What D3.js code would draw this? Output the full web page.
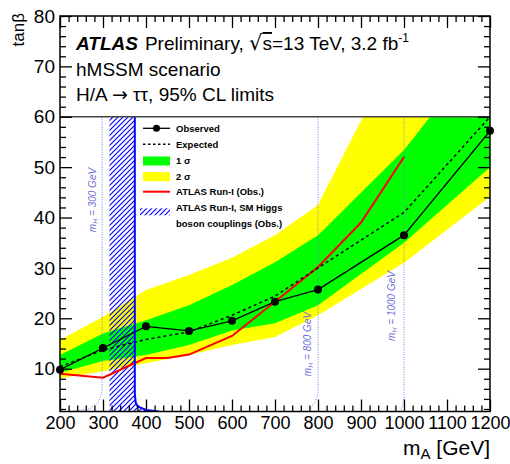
<!DOCTYPE html>
<html>
<head>
<meta charset="utf-8">
<script src="https://cdn.jsdelivr.net/npm/d3@7"></script>
<style>
body { margin: 0; background: #fff; }
svg { display: block; font-family: "Liberation Sans", Arial, Helvetica, sans-serif; }
</style>
</head>
<body>
<svg id="chart" width="510" height="464"></svg>
<script>
// mass points of the limit scan (GeV)
const massPoints = [200, 300, 400, 500, 600, 700, 800, 1000, 1200];
const observed   = [9.8, 14.1, 18.4, 17.5, 19.5, 23.3, 25.7, 36.5, 57.2];
const expected   = [10.4, 13.7, 15.8, 17.3, 20.6, 24.4, 30.0, 41.0, 60.0];
const band2Lo    = [8.1, 9.5, 11.1, 12.7, 14.7, 16.3, 20.6, 31.0, 44.1];
const band1Lo    = [9.2, 11.5, 12.7, 14.7, 17.6, 19.0, 22.6, 35.0, 50.0];
const band1Hi    = [12.7, 17.0, 19.6, 22.6, 26.6, 31.1, 36.5, 53.4, 75.0];
const band2Hi    = [15.7, 20.3, 25.6, 28.6, 32.0, 36.5, 42.5, 76.0, 110.0];

// ATLAS Run-I observed limit
const run1Mass = [200, 300, 400, 450, 500, 600, 700, 800, 900, 1000];
const run1Obs  = [9.0, 8.2, 12.1, 12.1, 12.8, 16.5, 23.3, 30.2, 39.0, 52.0];

// Run-I SM Higgs couplings exclusion (left edge + right boundary curve)
const smCoupLeft = 315;
const smCoupMass = [374, 374, 376, 380, 386, 400, 430];
const smCoupTan  = [60, 5.0, 3.3, 2.6, 2.3, 1.8, 1.5];

// iso-mH contours
const mH300Mass  = [298, 298, 295, 287, 268, 245, 225];
const mH300Tan   = [60, 6.0, 4.5, 3.1, 2.0, 1.7, 1.5];
const mH800Mass  = [800, 800, 794, 786, 780];
const mH800Tan   = [60, 5.0, 3.5, 2.5, 1.5];
const mH1000Mass = [1000, 1000, 996, 991];
const mH1000Tan  = [60, 4.0, 2.5, 1.5];

const xTickLabels = [200, 300, 400, 500, 600, 700, 800, 900, 1000, 1100, 1200];
const yTickLabels = [10, 20, 30, 40, 50, 60, 70, 80];

const svg = d3.select("#chart");
const pL = 60, pR = 490, pT = 16, pB = 411.5;

const x = d3.scaleLinear().domain([200, 1200]).range([pL, pR]);
const y = d3.scaleLinear().domain([1.5, 80]).range([pB, pT]);

const defs = svg.append("defs");
defs.append("clipPath").attr("id", "plotClip")
  .append("rect")
    .attr("x", pL).attr("y", y(60))
    .attr("width", pR - pL).attr("height", pB - y(60));

const hatch = defs.append("pattern")
    .attr("id", "hatch")
    .attr("patternUnits", "userSpaceOnUse")
    .attr("width", 5).attr("height", 5);
hatch.append("path")
    .attr("d", "M-1,1 l2,-2 M0,5 l5,-5 M4,6 l2,-2")
    .attr("stroke", "#0000ff").attr("stroke-width", 1.2);

const zip = (ms, vs) => ms.map((m, i) => ({m: m, v: vs[i]}));

const plot = svg.append("g").attr("clip-path", "url(#plotClip)");

const area = (lo, hi) => d3.area()
    .x((d, i) => x(massPoints[i]))
    .y0((d, i) => y(lo[i]))
    .y1((d, i) => y(hi[i]))(massPoints);

plot.append("path").attr("d", area(band2Lo, band2Hi)).attr("fill", "#ffff00");
plot.append("path").attr("d", area(band1Lo, band1Hi)).attr("fill", "#00ff00");

// hatched exclusion
const hatchPts = [[smCoupLeft, 60], [smCoupLeft, 1.5]]
  .concat(smCoupMass.map((m, i) => [m, smCoupTan[i]]).reverse());
plot.append("path")
    .attr("d", d3.line().x(d => x(d[0])).y(d => y(d[1]))(hatchPts) + "Z")
    .attr("fill", "url(#hatch)");

const line = d3.line().x(d => x(d.m)).y(d => y(d.v));

// iso-mH dotted contours
[[mH300Mass, mH300Tan], [mH800Mass, mH800Tan], [mH1000Mass, mH1000Tan]].forEach(c => {
  plot.append("path")
      .attr("d", line(zip(c[0], c[1])))
      .attr("fill", "none")
      .attr("stroke", "#7a7ae0")
      .attr("stroke-width", 1)
      .attr("stroke-dasharray", "1,1.5");
});

plot.append("path").attr("d", line(zip(run1Mass, run1Obs)))
    .attr("fill", "none").attr("stroke", "#ff0000").attr("stroke-width", 2);

plot.append("path").attr("d", line(zip(massPoints, expected)))
    .attr("fill", "none").attr("stroke", "#000").attr("stroke-width", 1.5)
    .attr("stroke-dasharray", "3,3");

plot.append("path").attr("d", line(zip(massPoints, observed)))
    .attr("fill", "none").attr("stroke", "#000").attr("stroke-width", 1.3);

plot.append("path").attr("d", line(zip(smCoupMass, smCoupTan)))
    .attr("fill", "none").attr("stroke", "#0000ff").attr("stroke-width", 2);

svg.append("g").selectAll("circle")
  .data(zip(massPoints, observed))
  .join("circle")
    .attr("cx", d => x(d.m)).attr("cy", d => y(d.v))
    .attr("r", 4).attr("fill", "#000");

// horizontal line at tanb = 60
svg.append("line")
    .attr("x1", pL).attr("x2", pR)
    .attr("y1", y(60)).attr("y2", y(60))
    .attr("stroke", "#444").attr("stroke-width", 1.5);

// mH labels
function mHLabel(txt, mx, cy) {
  const t = svg.append("text")
      .attr("transform", `translate(${x(mx)},${cy}) rotate(-90)`)
      .attr("text-anchor", "middle")
      .attr("font-size", 10)
      .attr("font-style", "italic")
      .attr("fill", "#6f6fd8");
  t.append("tspan").text("m");
  t.append("tspan").attr("font-size", 7).attr("dy", 2).text("H");
  t.append("tspan").attr("dy", -2).text(" = " + txt + " GeV");
}
mHLabel("300", 283, 200);
mHLabel("800", 783, 344);
mHLabel("1000", 979, 306);

// axes with inward ticks
const minorX = d3.range(200, 1201, 20).filter(v => v % 100 !== 0);
const minorY = d3.range(2, 81, 2).filter(v => v % 10 !== 0);

function addAxis(gen, pos, scale, majors, minors, labels) {
  const g = svg.append("g").attr("transform", pos);
  g.call(gen(scale).tickValues(majors).tickSize(-12).tickPadding(labels ? 5 : 0)
      .tickFormat(labels ? d3.format("d") : ""));
  g.select(".domain").remove();
  const g2 = svg.append("g").attr("transform", pos);
  g2.call(gen(scale).tickValues(minors).tickSize(-6).tickFormat(""));
  g2.select(".domain").remove();
  svg.selectAll(".tick line").attr("stroke", "#000").attr("stroke-width", 1.3);
  return g;
}
const xb = addAxis(d3.axisBottom, `translate(0,${pB})`, x, xTickLabels, minorX, true);
const yl = addAxis(d3.axisLeft, `translate(${pL},0)`, y, yTickLabels, minorY, true);
addAxis(d3.axisTop, `translate(0,${pT})`, x, xTickLabels, minorX, false);
addAxis(d3.axisRight, `translate(${pR},0)`, y, yTickLabels, minorY, false);
xb.selectAll("text").attr("font-size", 18).attr("font-family", "Liberation Sans, Arial, sans-serif").attr("fill", "#000");
yl.selectAll("text").attr("font-size", 19).attr("font-family", "Liberation Sans, Arial, sans-serif").attr("fill", "#000");

svg.append("rect")
    .attr("x", pL).attr("y", pT)
    .attr("width", pR - pL).attr("height", pB - pT)
    .attr("fill", "none").attr("stroke", "#000").attr("stroke-width", 1.5);

// axis titles
const xt = svg.append("text").attr("x", pR).attr("y", 455)
    .attr("text-anchor", "end").attr("font-size", 21);
xt.append("tspan").text("m");
xt.append("tspan").attr("font-size", 15).attr("dy", 4).text("A");
xt.append("tspan").attr("dy", -4).text(" [GeV]");

svg.append("text")
    .attr("transform", "translate(24,13) rotate(-90)")
    .attr("text-anchor", "end").attr("font-size", 17)
    .text("tanβ");

// header text
const h1 = svg.append("text").attr("x", 76).attr("y", 50).attr("font-size", 19);
h1.append("tspan").attr("font-weight", "bold").attr("font-style", "italic").text("ATLAS");
h1.append("tspan").attr("dx", 7).text("Preliminary, ");
h1.append("tspan").attr("font-size", 21).attr("font-family", "DejaVu Sans").text("√");
h1.append("tspan").attr("text-decoration", "overline").text("s");
h1.append("tspan").text("=13 TeV, 3.2 fb");
h1.append("tspan").attr("font-size", 12).attr("dy", -8).text("-1");

svg.append("text").attr("x", 76).attr("y", 76).attr("font-size", 19).text("hMSSM scenario");
const h3 = svg.append("text").attr("x", 76).attr("y", 100.5).attr("font-size", 19);
h3.append("tspan").text("H/A ");
h3.append("tspan").attr("font-family", "DejaVu Sans").attr("font-size", 19).text("→");
h3.append("tspan").text(" ττ, 95% CL limits");

// legend
const lgX = 143, lgW = 27, lgTx = 176;
const lg = svg.append("g").attr("font-size", 9.5).attr("font-weight", "bold");
const rowY = [128.3, 144.3, 161, 176.7, 191.7, 207.3];
const legendLabels = ["Observed", "Expected", "1 σ", "2 σ", "ATLAS Run-I (Obs.)", "ATLAS Run-I, SM Higgs"];

lg.append("line").attr("x1", lgX).attr("x2", lgX + lgW).attr("y1", rowY[0]).attr("y2", rowY[0])
    .attr("stroke", "#000").attr("stroke-width", 1.3);
lg.append("circle").attr("cx", lgX + lgW / 2).attr("cy", rowY[0]).attr("r", 3.5).attr("fill", "#000");
lg.append("line").attr("x1", lgX).attr("x2", lgX + lgW).attr("y1", rowY[1]).attr("y2", rowY[1])
    .attr("stroke", "#000").attr("stroke-width", 1.5).attr("stroke-dasharray", "2.5,2.5");
lg.append("rect").attr("x", lgX).attr("y", rowY[2] - 4.5).attr("width", lgW).attr("height", 9).attr("fill", "#00ff00");
lg.append("rect").attr("x", lgX).attr("y", rowY[3] - 4.5).attr("width", lgW).attr("height", 9).attr("fill", "#ffff00");
lg.append("line").attr("x1", lgX).attr("x2", lgX + lgW).attr("y1", rowY[4]).attr("y2", rowY[4])
    .attr("stroke", "#ff0000").attr("stroke-width", 2);
lg.append("rect").attr("x", lgX - 3).attr("y", rowY[5] + 1).attr("width", lgW + 3).attr("height", 7).attr("fill", "url(#hatch)");

lg.selectAll("text.lab")
  .data(legendLabels)
  .join("text")
    .attr("class", "lab")
    .attr("x", lgTx)
    .attr("y", (d, i) => rowY[i])
    .attr("dy", "0.35em")
    .text(d => d);
lg.append("text").attr("x", lgTx).attr("y", 223.3).attr("dy", "0.35em").text("boson couplings (Obs.)");
</script>
</body>
</html>
